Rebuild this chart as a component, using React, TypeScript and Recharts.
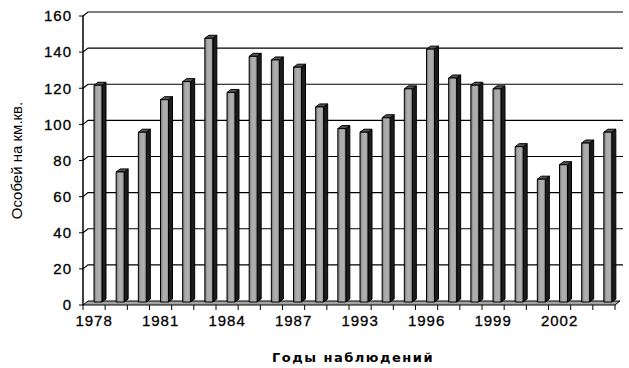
import { BarChart, Bar, XAxis, YAxis, CartesianGrid } from 'recharts'

const years = [
  '1978', '1979', '1980', '1981', '1982', '1983', '1984', '1985', '1986', '1987', '1988', '1990',
  '1993', '1994', '1995', '1996', '1997', '1998', '1999', '2000', '2001', '2002', '2003', '2004',
]
const density = [120, 72, 94, 112, 122, 146, 116, 136, 134, 130, 108, 96, 94, 102, 118, 140, 124, 120, 118, 86, 68, 76, 88, 94]
const yTicks = [0, 20, 40, 60, 80, 100, 120, 140, 160]

const data = years.map((year, i) => ({ year, value: density[i] }))

// 3D offsets
const WALL_DX = 5
const WALL_DY = -4
const BAR_DX = 4
const BAR_DY = -3
const SIDE_DX = 4
const SIDE_DY = -3

function Bar3D(props: any) {
  const { x, y, width, height } = props
  const fx = x + BAR_DX
  const fy = y + BAR_DY
  const fr = fx + width
  const fb = fy + height
  return (
    <g stroke="#000" strokeWidth={1} strokeLinejoin="round">
      <polygon
        points={`${fr},${fy} ${fr + SIDE_DX},${fy + SIDE_DY} ${fr + SIDE_DX},${fb + SIDE_DY} ${fr},${fb}`}
        fill="#1c1c1c"
      />
      <polygon
        points={`${fx},${fy} ${fx + SIDE_DX},${fy + SIDE_DY} ${fr + SIDE_DX},${fy + SIDE_DY} ${fr},${fy}`}
        fill="#555"
      />
      <rect x={fx} y={fy} width={width} height={height} fill="url(#barFace)" />
    </g>
  )
}

function GridLine(props: any) {
  const { x1, y1, x2, y2, index } = props
  if (index === 0 || y1 >= 300) {
    return (
      <polygon
        points={`${x1},${y1} ${x2},${y2} ${x2 + WALL_DX},${y2 + WALL_DY} ${x1 + WALL_DX},${y1 + WALL_DY}`}
        fill="#a3a3a3"
        stroke="#000"
        strokeWidth={1}
      />
    )
  }
  return (
    <path
      d={`M${x1},${y1} L${x1 + WALL_DX},${y1 + WALL_DY} L${x2 + WALL_DX + 3},${y2 + WALL_DY}`}
      fill="none"
      stroke="#000"
      strokeWidth={1.2}
    />
  )
}

function YearTick(props: any) {
  const { x, y, payload, index } = props
  const half = payload.offset ?? 11
  const axisY = y - 5
  return (
    <g>
      <line x1={x - half} y1={axisY} x2={x - half} y2={axisY + 5} stroke="#000" />
      {index === years.length - 1 && (
        <line x1={x + half} y1={axisY} x2={x + half} y2={axisY + 5} stroke="#000" />
      )}
      {index % 3 === 0 && (
        <text
          x={x}
          y={axisY + 21}
          textAnchor="middle"
          fontSize={15}
          letterSpacing={1}
          fontFamily="Liberation Sans, Arial, sans-serif"
          fill="#000"
          stroke="#000"
          strokeWidth={0.3}
        >
          {payload.value}
        </text>
      )}
    </g>
  )
}

export default function App() {
  return (
    <div style={{ position: 'absolute', left: 0, top: 0, width: 629, height: 368, background: '#fff' }}>
      <BarChart
        width={629}
        height={368}
        data={data}
        margin={{ top: 16, right: 14, bottom: 33, left: 0 }}
        barSize={8}
      >
        <defs>
          <linearGradient id="barFace" x1="0" y1="0" x2="1" y2="0">
            <stop offset="0%" stopColor="#6e6e6e" />
            <stop offset="30%" stopColor="#a9a9a9" />
            <stop offset="70%" stopColor="#b0b0b0" />
            <stop offset="100%" stopColor="#8a8a8a" />
          </linearGradient>
        </defs>
        <CartesianGrid vertical={false} horizontal={GridLine as any} />
        <XAxis
          dataKey="year"
          interval={0}
          axisLine={false}
          tickLine={false}
          tickSize={5}
          tickMargin={0}
          height={30}
          tick={YearTick as any}
          label={(p: any) => {
            const vb = p.viewBox
            return (
              <text
                x={vb.x + vb.width / 2 + 4}
                y={vb.y + 57}
                textAnchor="middle"
                fontSize={13}
                fontWeight="bold"
                letterSpacing={1.5}
                fontFamily="DejaVu Sans, Arial, sans-serif"
                fill="#000"
              >
                Годы наблюдений
              </text>
            )
          }}
        />
        <YAxis
          domain={[0, 160]}
          ticks={yTicks}
          interval={0}
          width={83}
          tickSize={4}
          tickMargin={7}
          axisLine={{ stroke: '#000', strokeWidth: 1.5 }}
          tickLine={{ stroke: '#000' }}
          tick={{ fontSize: 15, fill: '#000', stroke: '#000', strokeWidth: 0.3, fontFamily: 'Liberation Sans, Arial, sans-serif', letterSpacing: 1 }}
          label={{
            value: 'Особей на км.кв.',
            angle: -90,
            position: 'insideLeft',
            offset: 17,
            style: { fontSize: 15, fill: '#000', fontFamily: 'Liberation Sans, Arial, sans-serif', textAnchor: 'middle' },
          }}
        />
        <Bar dataKey="value" shape={Bar3D} isAnimationActive={false} />
      </BarChart>
    </div>
  )
}
